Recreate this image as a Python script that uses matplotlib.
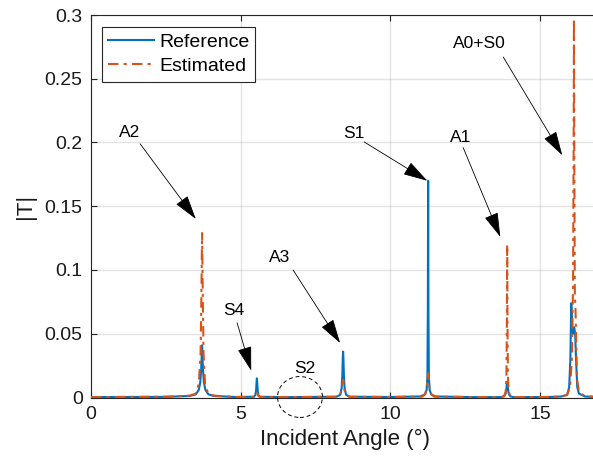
import matplotlib
matplotlib.use("Agg")
import matplotlib.pyplot as plt
from matplotlib.patches import Ellipse

plt.rcParams['font.family'] = ['Liberation Sans', 'DejaVu Sans']

# ---- data ----
ref_x = [0, 2.5, 3.3, 3.5, 3.6, 3.65, 3.68, 3.70, 3.71, 3.72, 3.74, 3.77, 3.82, 3.92, 4.1,
         4.8, 5.44, 5.49, 5.515, 5.53, 5.54, 5.55, 5.565, 5.59, 5.64,
         6.5, 8.2, 8.32, 8.37, 8.395, 8.41, 8.42, 8.43, 8.445, 8.47, 8.52, 8.64,
         10.0, 11.0, 11.16, 11.21, 11.235, 11.25, 11.255, 11.26, 11.265, 11.27, 11.285, 11.31, 11.36, 11.5,
         12.8, 13.7, 13.8, 13.85, 13.875, 13.89, 13.9, 13.91, 13.925, 13.95, 14.0, 14.1,
         15.3, 15.7, 15.9, 15.97, 16.01, 16.04, 16.07, 16.1, 16.14, 16.17, 16.2, 16.24, 16.3, 16.5, 17.0]
ref_y = [0.0003, 0.0005, 0.0012, 0.0025, 0.006, 0.012, 0.022, 0.034, 0.041, 0.034, 0.022, 0.012, 0.006, 0.0025, 0.0012,
         0.0004, 0.0006, 0.002, 0.006, 0.012, 0.015, 0.012, 0.006, 0.002, 0.0006,
         0.0003, 0.0006, 0.0021, 0.0072, 0.018, 0.031, 0.036, 0.031, 0.018, 0.0072, 0.0021, 0.0006,
         0.0004, 0.0008, 0.0025, 0.006, 0.016, 0.066, 0.12, 0.17, 0.12, 0.066, 0.016, 0.006, 0.0025, 0.0008,
         0.0003, 0.0003, 0.001, 0.0032, 0.0071, 0.0108, 0.012, 0.0108, 0.0071, 0.0032, 0.001, 0.0003,
         0.0004, 0.0008, 0.002, 0.008, 0.03, 0.074, 0.058, 0.05, 0.055, 0.05, 0.03, 0.008, 0.003, 0.0008, 0.0003]

est_x = [0, 2.5, 3.3, 3.5, 3.6, 3.66, 3.685, 3.71, 3.735, 3.76, 3.81, 3.91, 4.1,
         4.8, 5.44, 5.49, 5.515, 5.54, 5.565, 5.59, 5.64,
         6.5, 8.22, 8.32, 8.37, 8.395, 8.42, 8.445, 8.47, 8.52, 8.62,
         10.0, 11.06, 11.16, 11.21, 11.235, 11.26, 11.285, 11.31, 11.36, 11.46,
         12.8, 13.7, 13.8, 13.85, 13.875, 13.89, 13.895, 13.9, 13.905, 13.91, 13.925, 13.95, 14.0, 14.1,
         15.3, 15.7, 15.9, 16.0, 16.06, 16.1, 16.12, 16.13, 16.14, 16.16, 16.18, 16.2, 16.23, 16.3, 16.5, 17.0]
est_y = [0.0003, 0.0006, 0.0015, 0.003, 0.0107, 0.034, 0.076, 0.129, 0.076, 0.034, 0.0107, 0.003, 0.0015,
         0.0004, 0.0004, 0.0012, 0.0025, 0.004, 0.0025, 0.0012, 0.0004,
         0.0003, 0.00054, 0.0019, 0.0055, 0.010, 0.014, 0.010, 0.0055, 0.0019, 0.00054,
         0.0004, 0.0007, 0.0026, 0.0074, 0.0137, 0.019, 0.0137, 0.0074, 0.0026, 0.0007,
         0.0003, 0.0003, 0.0012, 0.0046, 0.0166, 0.06, 0.096, 0.12, 0.096, 0.06, 0.0166, 0.0046, 0.0012, 0.0003,
         0.0004, 0.0008, 0.002, 0.008, 0.03, 0.09, 0.2, 0.297, 0.2, 0.08, 0.07, 0.05, 0.015, 0.004, 0.001, 0.0003]

x_ticks = [0, 5, 10, 15]
y_ticks = [0, 0.05, 0.1, 0.15, 0.2, 0.25, 0.3]
y_tick_labels = ['0', '0.05', '0.1', '0.15', '0.2', '0.25', '0.3']

# annotations: label, text position, arrow start, arrow tip (data coords)
mode_labels = ['A2', 'S4', 'A3', 'S1', 'A1', 'A0+S0']
text_pos = [(1.30, 0.2076), (4.77, 0.0685), (6.31, 0.110), (8.79, 0.207), (12.36, 0.204), (12.97, 0.2777)]
arrow_start = [(1.64, 0.199), (4.88, 0.0585), (6.75, 0.100), (9.12, 0.2005), (12.43, 0.196), (13.77, 0.267)]
arrow_tip = [(3.50, 0.140), (5.35, 0.021), (8.32, 0.0427), (11.23, 0.170), (13.67, 0.126), (15.74, 0.190)]

# ---- figure ----
W, H, DPI = 593, 469, 100
fig = plt.figure(figsize=(W / DPI, H / DPI), dpi=DPI)
left, right, bottom, top = 91, 600, 469 - 397.5, 469 - 15
ax = fig.add_axes([left / W, bottom / H, (right - left) / W, (top - bottom) / H])

axcol = (0.15, 0.15, 0.15)
blue = '#0072BD'
orange = '#D95319'

ax.plot(ref_x, ref_y, color=blue, lw=1.5, label='Reference', zorder=3)
ax.plot(est_x, est_y, color=orange, lw=1.5, linestyle=(0, (5, 2.5, 1.5, 2.5)),
        label='Estimated', zorder=4)

ax.set_xlim(0, 17)
ax.set_ylim(0, 0.3)
ax.set_xticks(x_ticks)
ax.set_yticks(y_ticks)
ax.set_yticklabels(y_tick_labels)
ax.grid(True, color=(0.15, 0.15, 0.15), alpha=0.12, lw=1.0)
ax.set_axisbelow(True)
ax.tick_params(direction='in', length=4, width=0.8, colors=axcol, labelsize=14,
               top=True, right=True, pad=6)
for t in ax.get_xticklabels() + ax.get_yticklabels():
    t.set_color('#1a1a1a')
for s in ax.spines.values():
    s.set_color(axcol)
    s.set_linewidth(0.8)

ax.set_xlabel('Incident Angle (°)', fontsize=16, color='#1a1a1a', labelpad=4)
ax.set_ylabel('|T|', fontsize=16, color='#1a1a1a', labelpad=6)

leg = ax.legend(loc='upper left', bbox_to_anchor=(0.022, 0.969), fontsize=14,
                frameon=True, fancybox=False, edgecolor=axcol, framealpha=1,
                handlelength=2.35, handletextpad=0.25, borderpad=0.32, labelspacing=0.36,
                borderaxespad=0)
leg.get_frame().set_linewidth(0.8)

for lab, tp, st, tip in zip(mode_labels, text_pos, arrow_start, arrow_tip):
    ax.text(tp[0], tp[1], lab, fontsize=12.5, ha='center', va='center', color='black', zorder=6)
    ax.annotate('', xy=tip, xytext=st,
                arrowprops=dict(arrowstyle='-|>,head_length=1.1,head_width=0.32',
                                color='black', lw=0.6, mutation_scale=14,
                                shrinkA=0, shrinkB=0),
                zorder=6)

# S2 dashed circle and label
ax.add_patch(Ellipse((6.98, 0.0004), 1.50, 0.0321, fill=False, ls=(0, (4, 3)),
                     lw=0.7, edgecolor='black', clip_on=False, zorder=6))
ax.text(7.15, 0.0231, 'S2', fontsize=12.5, ha='center', va='center', color='black', zorder=6)

fig.savefig('out.png', dpi=DPI)
